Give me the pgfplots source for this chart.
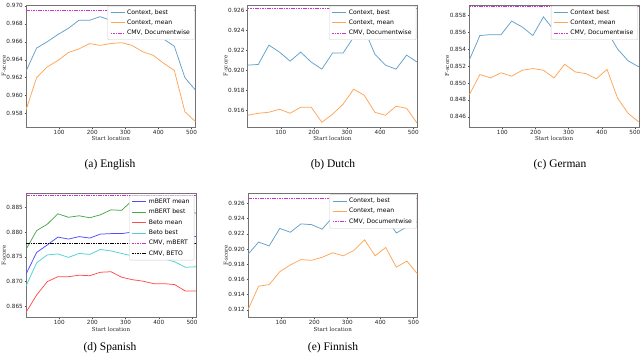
\documentclass[border=0pt]{standalone}
\usepackage{pgfplots}
\pgfplotsset{compat=1.18}
\usepackage{fontspec}
\setmainfont{Liberation Serif}
\newfontfamily\dvs{DejaVu Sans}
\newfontfamily\dvserif{DejaVu Serif}
\definecolor{cblue}{RGB}{98,160,202}
\definecolor{corange}{RGB}{255,165,86}
\definecolor{cmag}{RGB}{204,51,204}
\definecolor{mb}{RGB}{77,77,255}
\definecolor{mg}{RGB}{77,166,77}
\definecolor{mr}{RGB}{255,77,77}
\definecolor{mc}{RGB}{77,210,210}
\pgfplotsset{
  base/.style={
    scale only axis, width=169.5pt, height=122pt,
    xmin=0, xmax=512, xtick={100,200,300,400,500},
    tick align=outside, xtick pos=bottom, ytick pos=left,
    major tick length=1.5pt,
    axis line style={black!55, line width=0.6pt},
    tick style={black!70, line width=0.4pt},
    ticklabel style={font=\dvs\fontsize{5.7}{6.5}\selectfont, text=black!85, inner sep=1.5pt},
    /pgf/number format/assume math mode=true,
    yticklabel style={/pgf/number format/fixed, /pgf/number format/fixed zerofill, /pgf/number format/precision=3},
    xlabel={Start location}, ylabel={F-score},
    label style={font=\dvserif\fontsize{5.5}{6.5}\selectfont, text=black!85},
    xlabel style={yshift=3pt}, ylabel style={yshift=-4.5pt},
    legend cell align=left,
    legend style={at={(0.995,0.993)}, anchor=north east,
      font=\dvs\fontsize{6.1}{7.1}\selectfont,
      draw=black!20, rounded corners=1pt, fill=white, inner xsep=2.5pt, inner ysep=1.4pt,
      row sep=0.3pt},
    legend image code/.code={\draw[#1, line width=0.9pt] (0pt,0pt) -- (14pt,0pt);},
  },
  ln/.style={#1, line width=0.75pt},
  cmv/.style={cmag, line width=0.75pt, dash pattern=on 1.6pt off 0.8pt},
}
\begin{document}
\begin{tikzpicture}
\path[use as bounding box, fill=white] (0pt,0pt) rectangle (640pt,360pt);
% (a) English
\begin{axis}[base, at={(26pt,233pt)}, ymin=0.9565, ymax=0.9701,
  ytick={0.958,0.960,0.962,0.964,0.966,0.968,0.970}]
\addplot[ln=cblue] coordinates {(0,0.9627)(32,0.9653)(64,0.9660)(96,0.9668)(128,0.9675)(160,0.9684)(192,0.9684)(224,0.9688)(256,0.9684)(288,0.9682)(320,0.9680)(352,0.9676)(384,0.9671)(416,0.9663)(448,0.9655)(480,0.9620)(512,0.9606)};
\addlegendentry{Context, best}
\addplot[ln=corange] coordinates {(0,0.9584)(32,0.9620)(64,0.9632)(96,0.9639)(128,0.9648)(160,0.9652)(192,0.9658)(224,0.9656)(256,0.9658)(288,0.9659)(320,0.9656)(352,0.9649)(384,0.9645)(416,0.9636)(448,0.9628)(480,0.9582)(512,0.9571)};
\addlegendentry{Context, mean}
\addplot[cmv] coordinates {(0,0.96955)(512,0.96955)};
\addlegendentry{CMV, Documentwise}
\end{axis}
% (b) Dutch
\begin{axis}[base, at={(247.7pt,233pt)}, ymin=0.91433, ymax=0.9265,
  ytick={0.916,0.918,0.920,0.922,0.924,0.926}]
\addplot[ln=cblue] coordinates {(0,0.9205)(32,0.92057)(64,0.9225)(96,0.9218)(128,0.9209)(160,0.9218)(192,0.9208)(224,0.9201)(256,0.9217)(288,0.9217)(320,0.9233)(352,0.9241)(384,0.9216)(416,0.9205)(448,0.9201)(480,0.9215)(512,0.9208)};
\addlegendentry{Context, best}
\addplot[ln=corange] coordinates {(0,0.9155)(32,0.9157)(64,0.9158)(96,0.9161)(128,0.9157)(160,0.9163)(192,0.9163)(224,0.9148)(256,0.9156)(288,0.9166)(320,0.9181)(352,0.9175)(384,0.9158)(416,0.9155)(448,0.9164)(480,0.9162)(512,0.9147)};
\addlegendentry{Context, mean}
\addplot[cmv] coordinates {(0,0.92613)(512,0.92613)};
\addlegendentry{CMV, Documentwise}
\end{axis}
% (c) German
\begin{axis}[base, at={(469.3pt,233pt)}, ymin=0.8448, ymax=0.8592,
  ytick={0.846,0.848,0.850,0.852,0.854,0.856,0.858}]
\addplot[ln=cblue] coordinates {(0,0.8527)(32,0.8556)(64,0.8557)(96,0.8557)(128,0.8573)(160,0.8566)(192,0.8556)(224,0.8578)(256,0.8562)(288,0.8566)(320,0.8568)(352,0.8566)(384,0.8567)(416,0.8561)(448,0.8540)(480,0.8526)(512,0.8519)};
\addlegendentry{Context best}
\addplot[ln=corange] coordinates {(0,0.8486)(32,0.8510)(64,0.8506)(96,0.8512)(128,0.8508)(160,0.8515)(192,0.8517)(224,0.8515)(256,0.8506)(288,0.8522)(320,0.8513)(352,0.8511)(384,0.8505)(416,0.8516)(448,0.8482)(480,0.8464)(512,0.8454)};
\addlegendentry{Context, mean}
\addplot[cmv] coordinates {(0,0.85905)(512,0.85905)};
\addlegendentry{CMV, Documentwise}
\end{axis}
% (d) Spanish
\begin{axis}[base, at={(26pt,42.7pt)}, height=123.8pt, width=170pt, ymin=0.8628, ymax=0.8878,
  ytick={0.865,0.870,0.875,0.880,0.885},
  legend style={at={(0.99,0.985)}}]
\addplot[ln=mb] coordinates {(0,0.8715)(32,0.8759)(64,0.8774)(96,0.8790)(128,0.8786)(160,0.8791)(192,0.8788)(224,0.8796)(256,0.8797)(288,0.8797)(320,0.8800)(352,0.8801)(384,0.8801)(416,0.8800)(448,0.8797)(480,0.8793)(512,0.8791)};
\addlegendentry{mBERT mean}
\addplot[ln=mg] coordinates {(0,0.8765)(32,0.8803)(64,0.8816)(96,0.8837)(128,0.8830)(160,0.8833)(192,0.8829)(224,0.8835)(256,0.8845)(288,0.8844)(320,0.8864)(352,0.8868)(384,0.8866)(416,0.8862)(448,0.8855)(480,0.8846)(512,0.8838)};
\addlegendentry{mBERT best}
\addplot[ln=mr] coordinates {(0,0.8638)(32,0.8673)(64,0.8700)(96,0.8710)(128,0.8710)(160,0.8713)(192,0.8712)(224,0.8719)(256,0.8720)(288,0.8709)(320,0.8704)(352,0.8701)(384,0.8696)(416,0.8696)(448,0.8694)(480,0.8681)(512,0.8681)};
\addlegendentry{Beto mean}
\addplot[ln=mc] coordinates {(0,0.8691)(32,0.8738)(64,0.8754)(96,0.8756)(128,0.8749)(160,0.8757)(192,0.8755)(224,0.8765)(256,0.8762)(288,0.8757)(320,0.8752)(352,0.8745)(384,0.8749)(416,0.8746)(448,0.8740)(480,0.8729)(512,0.8730)};
\addlegendentry{Beto best}
\addplot[cmv] coordinates {(0,0.88744)(512,0.88744)};
\addlegendentry{CMV, mBERT}
\addplot[black, line width=0.75pt, dash pattern=on 1.6pt off 0.8pt] coordinates {(0,0.87776)(512,0.87776)};
\addlegendentry{CMV, BETO}
\end{axis}
% (e) Finnish
\begin{axis}[base, at={(248pt,42.7pt)}, height=123.8pt, ymin=0.9110, ymax=0.9273,
  ytick={0.912,0.914,0.916,0.918,0.920,0.922,0.924,0.926}]
\addplot[ln=cblue] coordinates {(0,0.9193)(32,0.9209)(64,0.9204)(96,0.9227)(128,0.9222)(160,0.9233)(192,0.9232)(224,0.9226)(256,0.9242)(288,0.9231)(320,0.9245)(352,0.9244)(384,0.9236)(416,0.9242)(448,0.9221)(480,0.9229)(512,0.9236)};
\addlegendentry{Context, best}
\addplot[ln=corange] coordinates {(0,0.9120)(32,0.9151)(64,0.9153)(96,0.9170)(128,0.9179)(160,0.9186)(192,0.9185)(224,0.9189)(256,0.9195)(288,0.9191)(320,0.9198)(352,0.9212)(384,0.9191)(416,0.9202)(448,0.9176)(480,0.9184)(512,0.9167)};
\addlegendentry{Context, mean}
\addplot[cmv] coordinates {(0,0.9266)(512,0.9266)};
\addlegendentry{CMV, Documentwise}
\end{axis}
\node[font=\fontsize{11.5}{13}\selectfont] at (110pt,195pt) {(a) English};
\node[font=\fontsize{11.5}{13}\selectfont] at (333pt,195pt) {(b) Dutch};
\node[font=\fontsize{11.5}{13}\selectfont] at (560pt,195pt) {(c) German};
\node[font=\fontsize{11.5}{13}\selectfont] at (110pt,12pt) {(d) Spanish};
\node[font=\fontsize{11.5}{13}\selectfont] at (333pt,12pt) {(e) Finnish};
\end{tikzpicture}
\end{document}
